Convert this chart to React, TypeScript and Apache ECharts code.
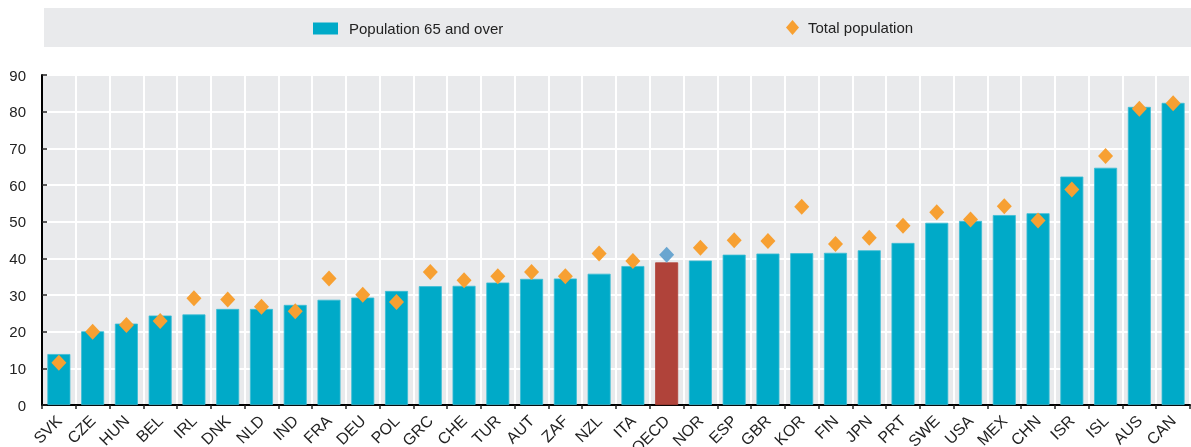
import React, { useEffect, useRef } from "react";
import * as echarts from "echarts";

const categories = ["SVK","CZE","HUN","BEL","IRL","DNK","NLD","IND","FRA","DEU","POL","GRC","CHE","TUR","AUT","ZAF","NZL","ITA","OECD","NOR","ESP","GBR","KOR","FIN","JPN","PRT","SWE","USA","MEX","CHN","ISR","ISL","AUS","CAN"];
const pop65 = [13.9,20.1,22.2,24.4,24.7,26.2,26.2,27.3,28.7,29.3,31.1,32.4,32.5,33.4,34.4,34.5,35.8,37.9,38.9,39.4,41.0,41.3,41.4,41.5,42.2,44.2,49.7,50.2,51.8,52.3,62.3,64.7,81.3,82.4];
const totalPop = [11.5,20.0,21.8,22.9,29.1,28.8,26.8,25.6,34.5,30.1,28.1,36.3,34.0,35.1,36.3,35.1,41.3,39.3,41.0,42.9,44.9,44.7,54.1,43.9,45.6,48.9,52.6,50.6,54.2,50.3,58.8,67.9,80.8,82.3];
const highlight = "OECD";
const yTicks = { min: 0, max: 90, interval: 10 };

const FONT = "'Liberation Sans', Arial, sans-serif";

export default function App() {
  const ref = useRef<HTMLDivElement>(null);
  useEffect(() => {
    if (!ref.current) return;
    const chart = echarts.init(ref.current, null, { renderer: "svg" });
    const barData = pop65.map((v, i) =>
      categories[i] === highlight
        ? { value: v, itemStyle: { color: "#b0433a", borderColor: "#b0433a" } }
        : v
    );
    const dotData = totalPop.map((v, i) =>
      categories[i] === highlight ? { value: v, itemStyle: { color: "#6aa6d0" } } : v
    );
    chart.setOption({
      animation: false,
      textStyle: { fontFamily: FONT },
      graphic: [
        { type: "rect", shape: { x: 44, y: 8, width: 1147, height: 39 }, style: { fill: "#e9eaec" }, z: -10 },
      ],
      legend: [
        {
          data: [{ name: "Population 65 and over", icon: "rect", itemStyle: { borderWidth: 0 } }],
          left: 313, top: 21, itemWidth: 25, itemHeight: 12, itemGap: 10,
          textStyle: { fontSize: 15, color: "#222", fontFamily: FONT, padding: [0, 0, 0, 6] },
          padding: 0,
        },
        {
          data: [{ name: "Total population", icon: "diamond", itemStyle: { opacity: 1 } }],
          left: 786, top: 20, itemWidth: 13, itemHeight: 15, itemGap: 10,
          textStyle: { fontSize: 15, color: "#222", fontFamily: FONT, padding: [0, 0, 0, 4] },
          padding: 0,
        },
      ],
      grid: {
        left: 42, right: 1, top: 75, bottom: 42,
        show: true, backgroundColor: "#e9eaec", borderWidth: 0,
        outerBoundsMode: "none",
        containLabel: false,
      },
      xAxis: {
        type: "category",
        data: categories,
        axisLine: { lineStyle: { color: "#000", width: 2 } },
        axisTick: { show: true, length: 4, lineStyle: { color: "#222", width: 1.5 } },
        axisLabel: { rotate: 45, fontSize: 16, color: "#222", margin: 13, interval: 0, fontFamily: FONT },
        splitLine: { show: true, lineStyle: { color: "#ffffff", width: 2 } },
      },
      yAxis: {
        type: "value",
        min: yTicks.min, max: yTicks.max, interval: yTicks.interval,
        axisLine: { show: true, lineStyle: { color: "#000", width: 2 } },
        axisTick: { show: true, inside: true, length: 5, lineStyle: { color: "#222", width: 1.5 } },
        axisLabel: { fontSize: 15, color: "#222", margin: 16, fontFamily: FONT },
        splitLine: { show: true, lineStyle: { color: "#ffffff", width: 2 } },
      },
      series: [
        {
          name: "Population 65 and over",
          type: "bar",
          data: barData,
          barWidth: 23,
          itemStyle: { color: "#00aac8", borderColor: "#3bbcd4", borderWidth: 0.8 },
          z: 2,
        },
        {
          name: "Total population",
          type: "scatter",
          data: dotData,
          symbol: "diamond",
          symbolSize: [15, 16],
          itemStyle: { color: "#f7a032", opacity: 1 },
          z: 3,
        },
      ],
    });
    return () => chart.dispose();
  }, []);
  return <div ref={ref} style={{ position: "fixed", left: 0, top: 0, width: 1191, height: 447 }} />;
}
